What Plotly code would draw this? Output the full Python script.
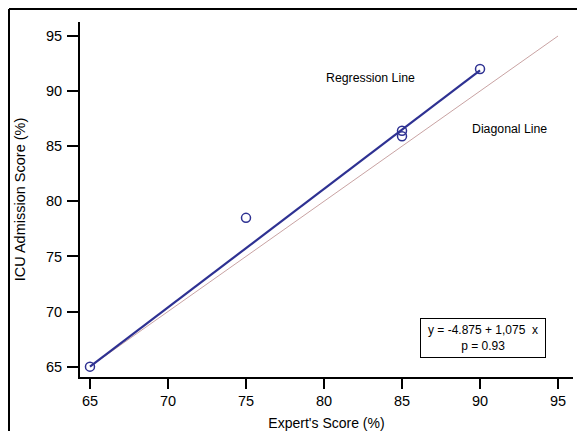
import plotly.graph_objects as go

expert = [65, 75, 85, 85, 90]
icu = [65, 78.5, 86.4, 85.9, 92]
intercept = -4.875
slope = 1.075
reg_x = [65, 90]
diag_x = [65, 95]

reg_y = [intercept + slope * v for v in reg_x]

navy = "#2e3192"
fig = go.Figure()
fig.add_trace(go.Scatter(x=diag_x, y=diag_x, mode="lines",
                         line=dict(color="#c9a3a3", width=1), showlegend=False))
fig.add_trace(go.Scatter(x=reg_x, y=reg_y, mode="lines",
                         line=dict(color=navy, width=2.2), showlegend=False))
fig.add_trace(go.Scatter(x=expert, y=icu, mode="markers",
                         marker=dict(symbol="circle-open", size=9, color=navy,
                                     line=dict(width=1.5, color=navy)),
                         showlegend=False))

font = dict(family="Liberation Sans, Arial, sans-serif", color="black")
# page body has an 8px margin; figure is sized so it ends at the window edges
fig.update_layout(
    width=577, height=423,
    margin=dict(l=72, r=12, t=14, b=54),
    paper_bgcolor="white", plot_bgcolor="white",
    font=dict(**font, size=14),
    xaxis=dict(range=[64.36, 95.96], tickvals=[65, 70, 75, 80, 85, 90, 95],
               automargin=False,
               showline=True, linecolor="black", linewidth=2,
               ticks="outside", ticklen=10, tickwidth=1.5, tickcolor="black",
               ticklabelstandoff=0, tickfont=dict(size=14.5),
               showgrid=False, zeroline=False,
               title=dict(text="Expert's Score (%)", font=dict(size=14), standoff=12)),
    yaxis=dict(range=[64.06, 96.27], tickvals=[65, 70, 75, 80, 85, 90, 95],
               automargin=False,
               showline=True, linecolor="black", linewidth=2,
               ticks="outside", ticklen=11, tickwidth=1.5, tickcolor="black",
               ticklabelstandoff=2, tickfont=dict(size=14.5),
               showgrid=False, zeroline=False,
               title=dict(text="ICU Admission Score (%)", font=dict(size=14.5), standoff=17)),
)

fig.add_annotation(x=82.95, y=91.2, text="Regression Line", showarrow=False,
                   font=dict(size=12.3))
fig.add_annotation(x=91.92, y=86.57, text="Diagonal Line", showarrow=False,
                   font=dict(size=12.3))
fig.add_annotation(x=90.19, y=67.6,
                   text="y = -4.875 + 1,075  x<br>p = 0.93", showarrow=False,
                   font=dict(size=12), align="center",
                   bordercolor="black", borderwidth=1, width=120, height=34,
                   borderpad=2, bgcolor="white")

# outer frame (top and left edges), positions in page pixels
W, H = 493, 355
def px(xp):
    return (xp - 80) / W
def py(yp):
    return (377 - yp) / H
fig.add_shape(type="line", xref="paper", yref="paper",
              x0=px(9), y0=py(9), x1=px(590), y1=py(9),
              line=dict(color="black", width=2))
fig.add_shape(type="line", xref="paper", yref="paper",
              x0=px(9), y0=py(9), x1=px(9), y1=py(440),
              line=dict(color="black", width=2))

fig.write_html("out.html")
